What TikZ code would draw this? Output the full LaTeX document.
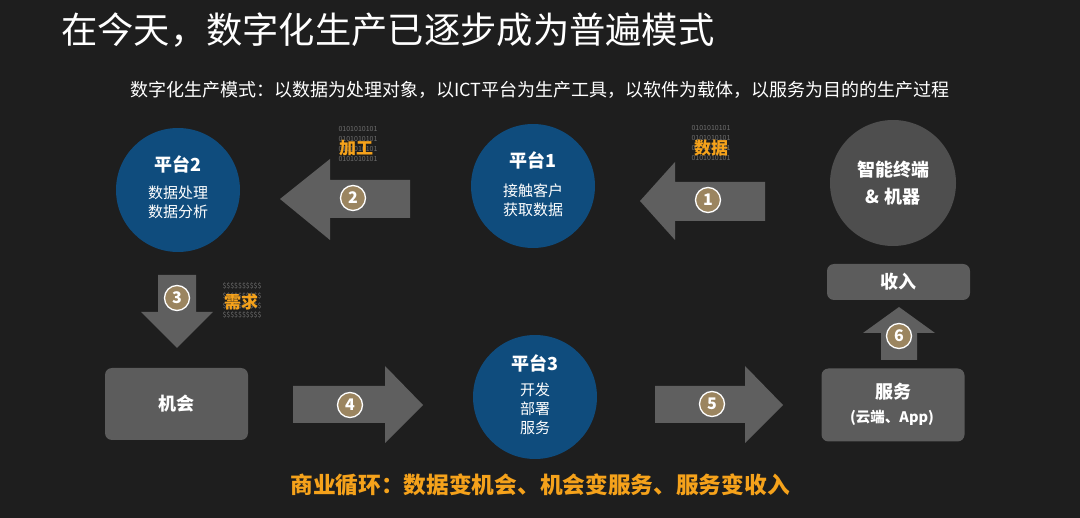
\documentclass[tikz,border=0pt]{standalone}
\usepackage{fontspec}
\setmainfont{Noto Sans CJK SC}
\begin{document}
\begin{tikzpicture}[x=1pt,y=-1pt,
  bluec/.style={circle,fill=cblue,minimum size=124pt,inner sep=0pt,text=white,align=center},
  grayc/.style={circle,fill=cgraycirc,minimum size=126pt,inner sep=0pt,text=white,align=center},
  box/.style={rounded corners=7pt,fill=cbox,text=white,align=center},
  arr/.style={fill=carrow},
  num/.style={circle,fill=ctan,draw=white,line width=1.3pt,minimum size=25pt,inner sep=0pt,text=white,font=\bfseries\fontsize{16}{16}\selectfont},
  hd/.style={font=\bfseries\fontsize{18}{20}\selectfont},
  sub/.style={font=\fontsize{15}{19}\selectfont},
  tag/.style={text=corange,font=\bfseries\fontsize{17}{17}\selectfont},
  bits/.style={text=cbits,font=\fontsize{7}{7}\selectfont,inner sep=0pt}]
\definecolor{cbg}{HTML}{1E1E1E}
\definecolor{cblue}{HTML}{0F4C7D}
\definecolor{cgraycirc}{HTML}{4E4E4E}
\definecolor{cbox}{HTML}{5C5C5C}
\definecolor{carrow}{HTML}{5F5F5F}
\definecolor{ctan}{HTML}{9B8560}
\definecolor{corange}{HTML}{F5A21B}
\definecolor{cbits}{HTML}{6E6E6E}
\fill[cbg] (0,0) rectangle (1080,518);
\useasboundingbox (0,0) rectangle (1080,518);

% title
\node[anchor=west,text=white,font=\fontsize{36.3}{38}\selectfont,inner sep=0pt] (title) at (61,30) {在今天，数字化生产已逐步成为普遍模式};
\node[text=white,font=\fontsize{18}{20}\selectfont,inner sep=0pt] (subtitle) at (540,90) {数字化生产模式：以数据为处理对象，以ICT平台为生产工具，以软件为载体，以服务为目的的生产过程};

% circles
\node[bluec] (p2) at (178,190) {};
\node[hd,text=white] (p2a) at (178,164) {平台2};
\node[sub,text=white,align=center] (p2b) at (178,202) {数据处理\\数据分析};

\node[bluec] (p1) at (533,186) {};
\node[hd,text=white] (p1a) at (533,160) {平台1};
\node[sub,text=white,align=center] (p1b) at (533,200) {接触客户\\获取数据};

\node[grayc] (term) at (893,183) {};
\node[hd,text=white,align=center,font=\bfseries\fontsize{18}{27}\selectfont] (terma) at (893,183) {智能终端\\\& 机器};

\node[bluec] (p3) at (535,397) {};
\node[hd,text=white] (p3a) at (535,363) {平台3};
\node[text=white,align=center,font=\fontsize{15}{19}\selectfont] (p3b) at (535,409) {开发\\部署\\服务};

% boxes
\node[box,minimum width=143pt,minimum height=72pt,hd] (chance) at (176.5,404) {机会};
\node[box,minimum width=143pt,minimum height=36pt,hd] (income) at (898.5,282) {收入};
\node[box,minimum width=143pt,minimum height=73pt] (service) at (893,405) {};
\node[hd,text=white] (serva) at (893,392) {服务};
\node[text=white,font=\bfseries\fontsize{14.5}{14.5}\selectfont] (servb) at (892,418) {(云端、App)};

% arrows
\fill[arr] (410,180) -- (330,180) -- (330,159) -- (280,199) -- (330,240) -- (330,218) -- (410,218) -- cycle;
\fill[arr] (765,182) -- (675,182) -- (675,162) -- (640,201) -- (675,240) -- (675,221) -- (765,221) -- cycle;
\fill[arr] (158,275) -- (196,275) -- (196,312) -- (213,312) -- (177,348) -- (141,312) -- (158,312) -- cycle;
\fill[arr] (293,386) -- (385,386) -- (385,366) -- (423,405) -- (385,443) -- (385,423) -- (293,423) -- cycle;
\fill[arr] (655,386) -- (745,386) -- (745,366) -- (783,405) -- (745,443) -- (745,423) -- (655,423) -- cycle;
\fill[arr] (881,360) -- (881,333) -- (863,333) -- (899,307) -- (935,333) -- (917,333) -- (917,360) -- cycle;

% numbers
\node[num] (n1) at (708,200) {1};
\node[num] (n2) at (353,198) {2};
\node[num] (n3) at (177,298) {3};
\node[num] (n4) at (350,405) {4};
\node[num] (n5) at (712,404) {5};
\node[num] (n6) at (899,336) {6};

% tags
\foreach \yy [count=\i] in {129,139,149,159} {\node[bits] (b1\i) at (358,\yy) {0101010101};}
\node[tag] (tag1) at (356,148) {加工};
\foreach \yy [count=\i] in {128,138,148,158} {\node[bits] (b2\i) at (711,\yy) {0101010101};}
\node[tag] (tag2) at (711,148) {数据};
\foreach \yy [count=\i] in {286,296,306,315} {\node[bits] (b3\i) at (242,\yy) {\$\$\$\$\$\$\$\$\$\$};}
\node[tag] (tag3) at (241,302) {需求};

% bottom
\node[text=corange,font=\bfseries\fontsize{22.7}{24}\selectfont,inner sep=0pt] (bottom) at (540,485) {商业循环：数据变机会、机会变服务、服务变收入};
\end{tikzpicture}
\end{document}
